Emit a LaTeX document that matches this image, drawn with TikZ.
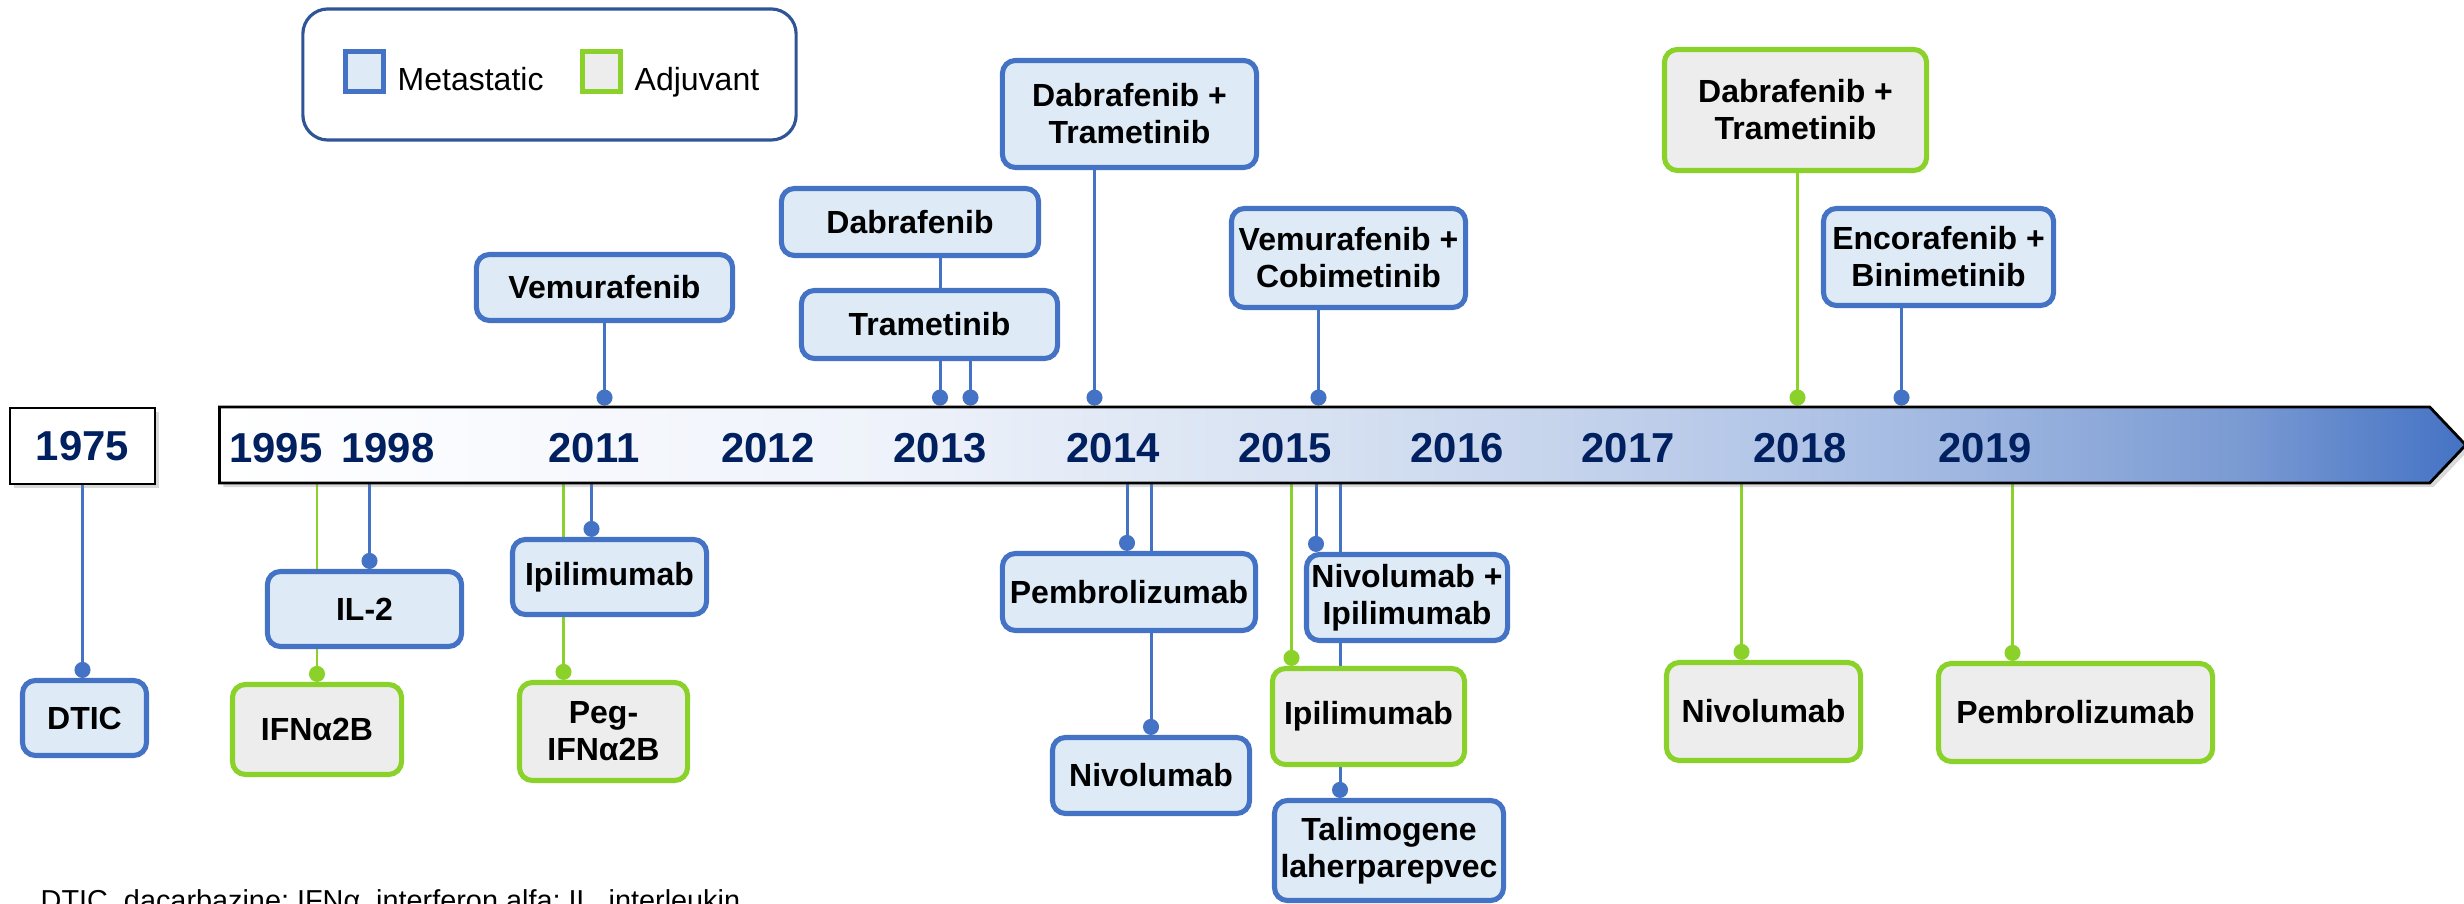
\documentclass[tikz,border=0pt]{standalone}
\usepackage{fontspec}
\setmainfont{Liberation Sans}
\usepackage{xcolor}
\usepackage{tikz}
\usetikzlibrary{arrows.meta,calc,positioning,shadows,shapes.symbols}
\definecolor{metblue}{HTML}{4472C4}
\definecolor{metfill}{HTML}{DEEBF7}
\definecolor{adjgreen}{HTML}{8AD12A}
\definecolor{adjfill}{HTML}{EDEDED}
\definecolor{navy}{HTML}{002060}
\definecolor{legline}{HTML}{2F5597}
\definecolor{tla}{HTML}{FAFBFE}
\definecolor{tlb}{HTML}{EEF2FA}
\definecolor{tlc}{HTML}{D5E0F1}
\definecolor{tld}{HTML}{C5D3EC}
\definecolor{tle}{HTML}{B2C5E7}
\definecolor{tlf}{HTML}{99B2DE}
\definecolor{tlg}{HTML}{7A9AD3}
\pgfdeclarehorizontalshading{tlgrad}{100bp}{color(0bp)=(white); color(25bp)=(white); color(30bp)=(tla); color(40bp)=(tlb); color(50bp)=(tlc); color(55bp)=(tld); color(60bp)=(tle); color(65bp)=(tlf); color(70bp)=(tlg); color(75bp)=(metblue); color(100bp)=(metblue)}
\pgfdeclarelayer{bg}
\pgfsetlayers{bg,main}
\tikzset{
  metbox/.style={draw=metblue,fill=metfill,line width=1.45pt,rounded corners=0.13cm,align=center,inner sep=0pt,font=\bfseries\fontsize{9.1}{10.5}\selectfont},
  adjbox/.style={metbox,draw=adjgreen,fill=adjfill},
  yearlbl/.style={text=navy,inner sep=0pt,font=\bfseries\fontsize{11.9}{14}\selectfont},
  shad/.style={drop shadow={opacity=0.3,shadow xshift=0.04cm,shadow yshift=-0.04cm}},
  mlink/.style={metblue,line width=0.85pt,-{Circle[length=0.16cm,width=0.16cm]}},
  alink/.style={mlink,adjgreen},
  legtxt/.style={anchor=base west,inner sep=0pt,font=\fontsize{9.1}{11}\selectfont}
}

\begin{document}
\begin{tikzpicture}[x=0.01cm,y=-0.01cm]
  \useasboundingbox (0,0) rectangle (2464,904);
  \clip (0,0) rectangle (2464,904);
  % legend
  \node[draw=legline,line width=0.9pt,rounded corners=0.25cm,minimum width=4.93cm,minimum height=1.31cm] (leg) at (549.5,74.5) {};
  \node[draw=metblue,fill=metfill,line width=1.4pt,minimum width=0.38cm,minimum height=0.40cm] (legm) at (364.5,71.5) {};
  \node[legtxt] (legmt) at (397,91) {Metastatic};
  \node[draw=adjgreen,fill=adjfill,line width=1.4pt,minimum width=0.38cm,minimum height=0.40cm] (lega) at (601.5,71.5) {};
  \node[legtxt] (legat) at (634,91) {Adjuvant};
  % time line
  \node[signal,signal to=east,signal pointer angle=93,draw=black,line width=0.8pt,shading=tlgrad,shad,minimum width=22.45cm,minimum height=0.76cm,inner sep=0pt,anchor=west] (tl) at (218,445) {};
  \node[yearlbl,draw=black,line width=0.8pt,fill=white,shad,minimum width=1.45cm,minimum height=0.76cm] (y1975) at (82.5,446) {1975};
  \node[yearlbl] (y1995) at (276,448) {1995}; \node[yearlbl] (y1998) at (388,448) {1998};
  \node[yearlbl] (y2011) at (594,448) {2011}; \node[yearlbl] (y2012) at (768,448) {2012};
  \node[yearlbl] (y2013) at (940,448) {2013}; \node[yearlbl] (y2014) at (1113,448) {2014};
  \node[yearlbl] (y2015) at (1285,448) {2015}; \node[yearlbl] (y2016) at (1457,448) {2016};
  \node[yearlbl] (y2017) at (1628,448) {2017}; \node[yearlbl] (y2018) at (1800,448) {2018};
  \node[yearlbl] (y2019) at (1985,448) {2019};
  % approvals above the line
  \node[metbox,minimum width=2.56cm,minimum height=0.66cm] (vem) at (604.5,287.5) {Vemurafenib};
  \node[metbox,minimum width=2.57cm,minimum height=0.67cm] (dab) at (910,222) {Dabrafenib};
  \node[metbox,minimum width=2.56cm,minimum height=0.68cm] (tra) at (929.5,324.5) {Trametinib};
  \node[metbox,minimum width=2.54cm,minimum height=1.07cm] (dt14) at (1129.5,114) {Dabrafenib +\\Trametinib};
  \node[metbox,minimum width=2.34cm,minimum height=0.99cm] (vc) at (1348.5,258) {Vemurafenib +\\Cobimetinib};
  \node[adjbox,minimum width=2.62cm,minimum height=1.21cm] (dtg) at (1795.5,110) {Dabrafenib +\\Trametinib};
  \node[metbox,minimum width=2.30cm,minimum height=0.97cm] (eb) at (1938.5,257) {Encorafenib +\\Binimetinib};
  % approvals below the line
  \node[metbox,minimum width=1.24cm,minimum height=0.75cm] (dtic) at (84.5,718) {DTIC};
  \node[metbox,minimum width=1.94cm,minimum height=0.75cm] (il2) at (364.5,609) {IL-2};
  \node[adjbox,minimum width=1.69cm,minimum height=0.90cm] (ifn) at (317,729.5) {IFNα2B};
  \node[metbox,minimum width=1.94cm,minimum height=0.75cm] (ipi) at (609.5,577) {Ipilimumab};
  \node[adjbox,minimum width=1.68cm,minimum height=0.98cm] (peg) at (603.5,731.5) {Peg-\\IFNα2B};
  \node[metbox,minimum width=2.53cm,minimum height=0.77cm] (pem) at (1129,592) {Pembrolizumab};
  \node[metbox,minimum width=1.97cm,minimum height=0.76cm] (niv) at (1151,775.5) {Nivolumab};
  \node[metbox,minimum width=2.01cm,minimum height=0.86cm] (ni) at (1407,597.5) {Nivolumab +\\Ipilimumab};
  \node[adjbox,minimum width=1.92cm,minimum height=0.96cm] (ipg) at (1368.5,716.5) {Ipilimumab};
  \node[metbox,minimum width=2.29cm,minimum height=1.00cm] (tal) at (1389,850.5) {Talimogene\\laherparepvec};
  \node[adjbox,minimum width=1.94cm,minimum height=0.98cm] (nivg) at (1763.5,711.5) {Nivolumab};
  \node[adjbox,minimum width=2.74cm,minimum height=0.98cm] (pemg) at (2075.5,712.5) {Pembrolizumab};
  \node[anchor=base west,inner sep=0pt,font=\fontsize{8.2}{10}\selectfont] (note) at (40,910) {DTIC, dacarbazine; IFNα, interferon alfa; IL, interleukin};
  \begin{pgfonlayer}{bg}
    \draw[mlink] (vem.south) -- (vem.south |- tl.north);
    \draw[mlink] ($(dab.south)+(30,0)$) -- ($(dab.south |- tl.north)+(30,0)$);
    \draw[mlink] ($(tra.south)+(41,0)$) -- ($(tra.south |- tl.north)+(41,0)$);
    \draw[mlink] ($(dt14.south)+(-35,0)$) -- ($(dt14.south |- tl.north)+(-35,0)$);
    \draw[mlink] ($(vc.south)+(-30,0)$) -- ($(vc.south |- tl.north)+(-30,0)$);
    \draw[alink] ($(dtg.south)+(2,0)$) -- ($(dtg.south |- tl.north)+(2,0)$);
    \draw[mlink] ($(eb.south)+(-37,0)$) -- ($(eb.south |- tl.north)+(-37,0)$);
    \draw[mlink] (y1975.south) -- (y1975.south |- dtic.north);
    \draw[alink] (ifn.north |- tl.south) -- (ifn.north);
    \draw[mlink] ($(il2.north |- tl.south)+(5,0)$) -- ($(il2.north)+(5,0)$);
    \draw[alink] ($(peg.north |- tl.south)+(-40,0)$) -- ($(peg.north)+(-40,0)$);
    \draw[mlink] ($(ipi.north |- tl.south)+(-18,0)$) -- ($(ipi.north)+(-18,0)$);
    \draw[mlink] ($(pem.north |- tl.south)+(-2,0)$) -- ($(pem.north)+(-2,0)$);
    \draw[mlink] (niv.north |- tl.south) -- (niv.north);
    \draw[alink] ($(ipg.north |- tl.south)+(-77,0)$) -- ($(ipg.north)+(-77,0)$);
    \draw[mlink] ($(ni.north |- tl.south)+(-91,0)$) -- ($(ni.north)+(-91,0)$);
    \draw[mlink] ($(tal.north |- tl.south)+(-49,0)$) -- ($(tal.north)+(-49,0)$);
    \draw[alink] ($(nivg.north |- tl.south)+(-22,0)$) -- ($(nivg.north)+(-22,0)$);
    \draw[alink] ($(pemg.north |- tl.south)+(-63,0)$) -- ($(pemg.north)+(-63,0)$);
  \end{pgfonlayer}
\end{tikzpicture}
\end{document}
